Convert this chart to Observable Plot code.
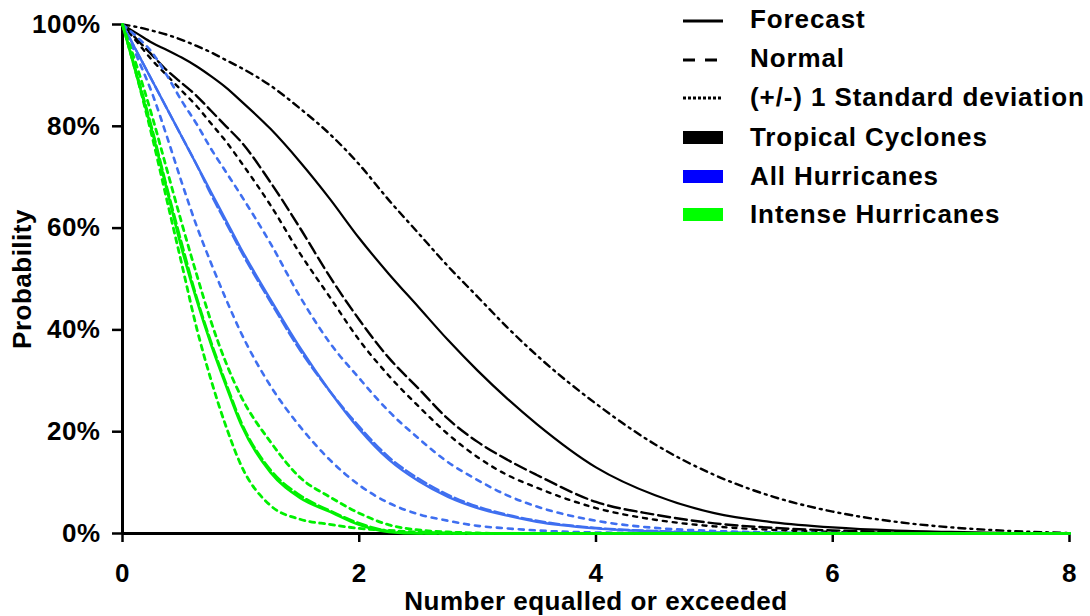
<!DOCTYPE html>
<html>
<head>
<meta charset="utf-8">
<script src="https://cdn.jsdelivr.net/npm/d3@7"></script>
<script src="https://cdn.jsdelivr.net/npm/@observablehq/plot@0.6"></script>
<style>
  html, body { margin: 0; padding: 0; background: #fff; }
  #wrap { position: relative; width: 1090px; height: 616px; font-family: "Liberation Sans", Arial, sans-serif; font-weight: bold; }
  #legend { position: absolute; left: 683px; top: 0px; }
  .row { position: absolute; left: 0; height: 30px; width: 420px; }
  .row svg { position: absolute; left: 0; top: 0; }
  .row span { position: absolute; left: 67px; top: 0; line-height: 30px; font-size: 26px; letter-spacing: 0.9px; color: #000; white-space: nowrap; }
</style>
</head>
<body>
<div id="wrap"><div id="chart"></div><div id="legend"></div></div>
<script>
// Number equalled or exceeded (x grid)
const X = [0, 0.125, 0.25, 0.375, 0.5, 0.625, 0.75, 0.875, 1, 1.25, 1.5, 1.75, 2, 2.25, 2.5, 2.75, 3, 3.25, 3.5, 4, 4.5, 5, 5.5, 6, 6.5, 7, 7.5, 8];

// Tropical cyclones (%)
const tcForecast = [100, 98.2, 96.4, 95, 93.5, 91.8, 89.8, 87.6, 85, 79.5, 73, 65.8, 58, 51, 44.5, 38, 32, 26.5, 21.5, 13, 7.5, 4, 2.2, 1.2, 0.6, 0.3, 0.1, 0];
const tcNormal   = [100, 97, 94, 91, 88.5, 86, 83, 80, 77, 69, 60, 50.5, 42, 34.5, 28.5, 22.5, 18, 14.5, 11.5, 6.2, 3.7, 2, 1.1, 0.6, 0.3, 0.1, 0.05, 0];
const tcUpper    = [100, 99.5, 98.8, 98, 97, 95.8, 94.5, 93, 91.5, 88, 83.5, 78.5, 72.5, 65.5, 59, 52.5, 46.5, 40.5, 35, 25.5, 17.5, 11.5, 7.2, 4.3, 2.4, 1.2, 0.5, 0.1];
const tcLower    = [100, 96.5, 93, 90, 87, 84, 80.5, 77, 73, 64.5, 55, 46.5, 38, 31, 25, 19.5, 15, 11.5, 9, 5, 2.7, 1.4, 0.7, 0.3, 0.15, 0.05, 0, 0];

// All hurricanes (%)
const hurForecast = [100, 94.5, 89, 83.5, 78, 72.5, 67, 61.5, 56, 46, 36.5, 28, 20.5, 14.5, 10.3, 7.2, 5, 3.5, 2.3, 1, 0.4, 0.15, 0.05, 0, 0, 0, 0, 0];
const hurNormal   = [100, 94.5, 89, 83.5, 78, 72.5, 66.5, 61, 55.5, 45.5, 36, 28, 21, 15, 10.8, 7.6, 5.3, 3.7, 2.5, 1.1, 0.5, 0.2, 0.1, 0, 0, 0, 0, 0];
const hurUpper    = [100, 97.5, 94.5, 90, 85, 80.5, 75.5, 71, 66.5, 57, 46.5, 37.5, 30.5, 24, 18.7, 14, 10.5, 7.5, 5.3, 2.5, 1.1, 0.5, 0.2, 0.1, 0, 0, 0, 0];
const hurLower    = [100, 93.5, 86.5, 78, 69, 60.5, 53, 46, 39.5, 29, 21, 14.5, 9.5, 6, 3.8, 2.5, 1.5, 1, 0.6, 0.2, 0.1, 0, 0, 0, 0, 0, 0, 0];

// Intense hurricanes (%)
const intForecast = [100, 89.5, 79, 67.5, 56, 46, 37, 29, 21.5, 12, 7, 4.3, 1.7, 0.3, 0, 0, 0, 0, 0, 0, 0, 0, 0, 0, 0, 0, 0, 0];
const intNormal   = [100, 90, 79.5, 68, 57, 46.5, 37.5, 29.5, 22, 12.5, 7.5, 4.5, 2, 0.5, 0.1, 0, 0, 0, 0, 0, 0, 0, 0, 0, 0, 0, 0, 0];
const intUpper    = [100, 91.5, 82, 71.5, 61, 51, 41.5, 33.5, 27, 18, 11, 7.2, 4, 1.7, 0.7, 0.3, 0.1, 0, 0, 0, 0, 0, 0, 0, 0, 0, 0, 0];
const intLower    = [100, 89.5, 78, 65.5, 53, 40.5, 30, 21, 13.5, 5.5, 2.8, 1.8, 1, 0.6, 0.3, 0.1, 0, 0, 0, 0, 0, 0, 0, 0, 0, 0, 0, 0];

const xTicks = [0, 2, 4, 6, 8];
const yTicks = [0, 20, 40, 60, 80, 100];

const BLACK = "#000000", BLUE = "#3f6ff0", GREEN = "#00f000";

const series = [
  {values: tcUpper,  color: BLACK, width: 2.4, dash: "7,5,2,5"},
  {values: tcLower,  color: BLACK, width: 2.4, dash: "4,6"},
  {values: tcNormal, color: BLACK, width: 2.4, dash: "12,5"},
  {values: tcForecast, color: BLACK, width: 2.2, dash: null},
  {values: hurUpper, color: BLUE, width: 2.6, dash: "5,6"},
  {values: hurLower, color: BLUE, width: 2.6, dash: "5,6"},
  {values: hurNormal, color: BLUE, width: 2.4, dash: "10,4"},
  {values: hurForecast, color: BLUE, width: 2.4, dash: null},
  {values: intUpper, color: GREEN, width: 2.8, dash: "5,5"},
  {values: intLower, color: GREEN, width: 2.8, dash: "5,5"},
  {values: intNormal, color: GREEN, width: 2.6, dash: "10,4"},
  {values: intForecast, color: GREEN, width: 2.6, dash: null}
];

const lineMarks = series.map(s =>
  Plot.line(X.map((x, i) => ({x, y: s.values[i]})), {
    x: "x", y: "y", stroke: s.color, strokeWidth: s.width,
    strokeDasharray: s.dash || undefined, curve: "monotone-x"
  })
);

const chart = Plot.plot({
  width: 1090, height: 616,
  marginLeft: 122, marginRight: 21, marginTop: 24, marginBottom: 83,
  style: {fontFamily: '"Liberation Sans", Arial, sans-serif', fontWeight: "bold", fontSize: "26px", color: "#000", background: "#fff", letterSpacing: "0.5px"},
  x: {domain: [0, 8]},
  y: {domain: [0, 100]},
  marks: [
    Plot.axisX({ticks: xTicks, tickFormat: d => String(d), tickSize: 9, tickPadding: 21, strokeWidth: 2.5, label: null}),
    Plot.axisY({ticks: yTicks, tickFormat: d => d + "%", tickSize: 10, tickPadding: 12, strokeWidth: 2.5, label: null}),
    Plot.ruleX([0], {stroke: "#000", strokeWidth: 3}),
    Plot.ruleY([0], {stroke: "#000", strokeWidth: 3}),
    ...lineMarks,
    Plot.text(["Number equalled or exceeded"], {frameAnchor: "bottom", lineAnchor: "middle", textAnchor: "middle", dy: 68, fontSize: 26, fontWeight: "bold"}),
    Plot.text(["Probability"], {frameAnchor: "left", lineAnchor: "middle", textAnchor: "middle", dx: -100, rotate: -90, fontSize: 26, fontWeight: "bold"})
  ]
});
document.getElementById("chart").appendChild(chart);

// Legend
const legendLabels = ["Forecast", "Normal", "(+/-) 1 Standard deviation", "Tropical Cyclones", "All Hurricanes", "Intense Hurricanes"];
const legendKinds = ["solid", "dashed", "dotted", "box", "box", "box"];
const legendColors = [BLACK, BLACK, BLACK, "#000000", "#0000ff", "#00ff00"];
const legendTops = [4, 43, 82, 122, 161, 199];
const legend = document.getElementById("legend");
legendLabels.forEach((lab, i) => {
  const row = document.createElement("div");
  row.className = "row";
  row.style.top = legendTops[i] + "px";
  let sample = "";
  const k = legendKinds[i];
  if (k === "solid") sample = `<line x1="0" x2="40" y1="17" y2="17" stroke="${legendColors[i]}" stroke-width="3"/>`;
  if (k === "dashed") sample = `<line x1="0" x2="40" y1="17" y2="17" stroke="${legendColors[i]}" stroke-width="3" stroke-dasharray="12,10"/>`;
  if (k === "dotted") sample = `<line x1="0" x2="40" y1="16" y2="16" stroke="${legendColors[i]}" stroke-width="3" stroke-dasharray="3,2"/>`;
  if (k === "box") sample = `<rect x="0" y="9" width="40" height="13" fill="${legendColors[i]}"/>`;
  row.innerHTML = `<svg width="42" height="30">${sample}</svg><span>${lab}</span>`;
  legend.appendChild(row);
});
</script>
</body>
</html>
